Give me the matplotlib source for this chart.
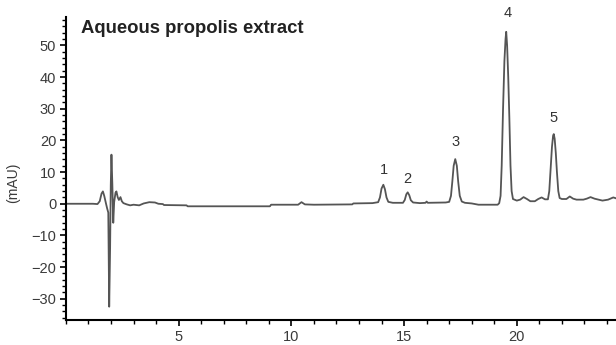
import matplotlib
matplotlib.use("Agg")
import matplotlib.pyplot as plt
from matplotlib.ticker import MultipleLocator

plt.rcParams['font.family'] = ['Liberation Sans', 'DejaVu Sans']

# Chromatogram trace (retention time in min, signal in mAU)
time_min = [
    0.0, 1.2, 1.4, 1.5, 1.58, 1.64, 1.7, 1.78, 1.83, 1.88,
    1.92, 1.96, 1.99, 2.02, 2.06, 2.1, 2.14, 2.2, 2.24, 2.3,
    2.35, 2.42, 2.48, 2.55, 2.7, 2.85, 3.0, 3.25, 3.45, 3.7,
    3.95, 4.1, 4.3, 4.35, 5.35, 5.4, 9.05, 9.1, 10.3, 10.45,
    10.6, 11.0, 12.7, 12.75, 13.6, 13.85, 13.93, 14.0, 14.08, 14.15,
    14.22, 14.3, 14.5, 14.95, 15.03, 15.1, 15.16, 15.23, 15.3, 15.4,
    15.7, 15.95, 16.0, 16.05, 16.85, 17.0, 17.08, 17.14, 17.2, 17.27,
    17.34, 17.4, 17.47, 17.56, 17.7, 18.0, 18.3, 19.15, 19.22, 19.28,
    19.33, 19.39, 19.45, 19.5, 19.53, 19.57, 19.62, 19.67, 19.72, 19.77,
    19.83, 20.0, 20.15, 20.3, 20.45, 20.6, 20.8, 20.95, 21.1, 21.25,
    21.38, 21.44, 21.5, 21.56, 21.61, 21.64, 21.68, 21.73, 21.78, 21.84,
    21.9, 22.0, 22.2, 22.35, 22.5, 22.65, 22.95, 23.1, 23.27, 23.45,
    23.8, 24.05, 24.28, 24.45,
]
signal_mau = [
    0.0, 0.0, -0.1, 0.8, 3.2, 3.9, 2.5, 0.0, -1.5, -2.8,
    -32.5, -14.0, 6.0, 15.5, 6.0, -6.0, 0.5, 3.5, 3.9, 2.0,
    1.2, 2.1, 0.8, 0.2, -0.2, -0.5, -0.3, -0.5, 0.1, 0.5,
    0.4, 0.0, -0.1, -0.4, -0.5, -0.8, -0.8, -0.3, -0.3, 0.5,
    -0.2, -0.3, -0.2, 0.1, 0.2, 0.5, 2.0, 4.8, 6.0, 4.6,
    2.0, 0.6, 0.3, 0.3, 1.2, 3.0, 3.6, 2.7, 1.1, 0.4,
    0.2, 0.3, 0.7, 0.3, 0.4, 0.6, 2.5, 7.0, 12.0, 14.1,
    12.0, 7.0, 2.5, 0.7, 0.3, 0.1, -0.3, -0.3, 0.2, 2.5,
    12.0, 30.0, 45.0, 52.0, 54.3, 50.0, 40.0, 27.0, 12.0, 4.0,
    1.5, 1.0, 1.3, 2.1, 1.5, 0.8, 0.8, 1.5, 2.0, 1.4,
    1.4, 4.0, 11.0, 18.0, 21.5, 22.0, 20.5, 16.0, 10.0, 4.0,
    1.8, 1.5, 1.5, 2.3, 1.6, 1.3, 1.3, 1.6, 2.1, 1.6,
    1.0, 1.3, 2.0, 1.6,
]

# Peak numbers and where their labels sit
peak_labels = ["1", "2", "3", "4", "5"]
peak_label_x = [14.1, 15.16, 17.27, 19.58, 21.64]
peak_label_y = [10.8, 7.9, 19.6, 60.1, 27.2]

fig = plt.figure(figsize=(6.16, 3.45), dpi=100)
ax = fig.add_axes([0.107, 0.0725, 0.893, 0.8785])

ax.plot(time_min, signal_mau, color="#555555", lw=1.3)

for lab, x, y in zip(peak_labels, peak_label_x, peak_label_y):
    ax.text(x, y, lab, ha="center", va="center", fontsize=10.5,
            color="#333333", clip_on=False)

ax.set_xlim(0, 24.4)
ax.set_ylim(-36.7, 59)

ax.xaxis.set_minor_locator(MultipleLocator(1))
ax.yaxis.set_minor_locator(MultipleLocator(2))
ax.set_xticks([5, 10, 15, 20])
ax.set_yticks([-30, -20, -10, 0, 10, 20, 30, 40, 50])

ax.tick_params(axis="both", which="major", length=4, width=1.2,
               labelsize=10.5, labelcolor="#3a3a3a", pad=3)
ax.tick_params(axis="both", which="minor", length=3, width=1.0)

for side in ["top", "right"]:
    ax.spines[side].set_visible(False)
for side in ["left", "bottom"]:
    ax.spines[side].set_linewidth(1.5)

ax.text(0.028, 0.963, "Aqueous propolis extract", transform=ax.transAxes,
        fontsize=13.3, fontweight="bold", color="#222222", va="center")

fig.text(0.022, 0.47, "(mAU)", rotation=90, ha="center", va="center",
         fontsize=10, color="#3a3a3a")

fig.savefig("out.png", dpi=100)
